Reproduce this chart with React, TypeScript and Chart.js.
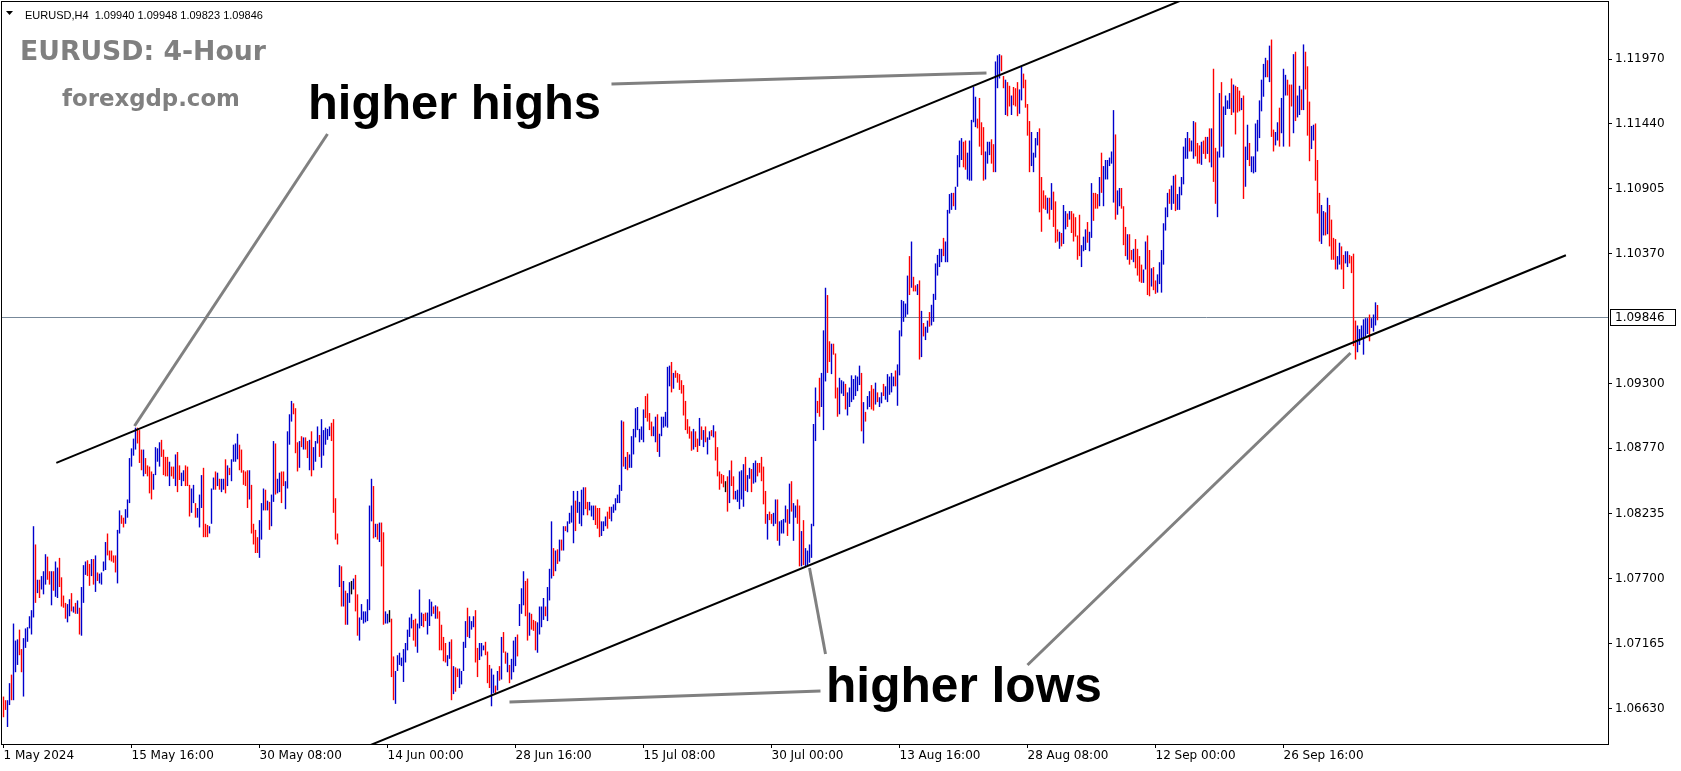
import React, { useEffect, useRef } from "react";
import { Chart, registerables } from "chart.js";

Chart.register(...registerables);

// ---- data -------------------------------------------------------------
// Each bar: [low, high, direction] ; low/high in pips above 1.06000,
// direction 1 = bullish (blue), -1 = bearish (red), 0 = doji (black)
const PRICE_BASE = 1.06;
const PIP = 0.0001;

const mayBars = [
  [56,73,-1],[62,70,-1],[48,70,1],[66,84,1],[70,91,-1],[70,133,1],[93,119,1],[99,120,1],[107,128,-1],[93,112,-1],
  [73,121,1],[113,129,1],[118,130,1],[129,139,1],[124,144,1],[138,213,1],[150,198,-1],[158,169,1],[154,169,-1],[161,172,1],
  [157,176,1],[165,190,1],[169,188,-1],[165,176,-1],[148,176,1],[160,176,-1],[155,184,1],[154,179,1],[163,187,-1],[147,171,-1],
  [146,156,-1],[137,150,-1],[134,149,1],[139,153,1],[143,158,-1],[142,147,1],[141,150,-1],[141,152,1],[124,146,-1],[123,163,1],
  [150,181,1],[173,184,1],[172,185,-1],[164,182,-1],[172,186,1],[165,186,-1],[159,189,1],[168,175,-1],[166,174,1],[165,175,1],
  [176,184,1],[177,200,1],[189,207,-1],[185,193,-1],[184,193,-1],[183,189,-1],[175,189,-1],[166,210,1],[207,226,1],[215,222,-1],
  [212,220,-1],[215,227,1],[220,235,1],[232,269,1],[262,277,1],[271,285,1],[276,294,1],[281,294,-1],[265,292,-1],[259,276,-1],
  [254,276,1],[256,269,-1],[254,263,-1],[240,262,-1],[235,258,-1],[243,256,1],[255,278,1],[266,277,1],[262,282,1],[270,284,-1],
  [255,276,-1],[254,270,-1],[254,270,-1],[246,266,1],[254,262,-1],[252,262,-1],[246,272,1],[241,274,-1],[251,263,-1],[246,257,1],
  [250,259,1],[246,263,-1],[246,262,-1],[221,247,-1],[224,244,1],[232,247,1],[220,232,-1],[220,228,1],[212,239,1],[228,255,1],
  [204,261,-1],[204,215,-1],[204,214,-1],[207,213,1],[215,244,1],[243,253,1],[243,258,-1],[246,257,1],[243,252,-1],[241,252,1],
  [243,252,1],[240,268,-1],[246,263,1],[255,261,-1],[250,268,1],[266,280,1],[266,281,1],[268,289,1],[259,280,-1],[257,276,-1],
  [247,259,-1],[246,258,-1],[228,259,-1],[235,259,1],[207,247,-1],[198,215,-1],[191,210,-1],[191,204,-1],[187,218,1],[202,232,1],
  [226,244,1],[226,243,-1],[226,234,1],[210,233,-1],[213,239,1],[233,283,1],[239,281,-1],[240,252,1]
];

const junBars = [
  [241,257,1],[232,258,-1],[246,258,-1],[227,250,1],[244,291,1],[280,305,1],[299,316,1],[305,314,-1],[273,310,-1],[258,282,-1],
  [261,283,1],[278,287,-1],[276,286,1],[276,286,-1],[269,283,-1],[259,284,1],[254,291,-1],[259,278,1],[266,283,1],[281,295,1],
  [270,288,-1],[261,301,1],[271,292,1],[280,294,1],[284,293,1],[287,295,1],[283,298,-1],[224,301,-1],[202,236,-1],[198,207,-1],
  [163,181,1],[147,180,-1],[147,168,1],[132,160,-1],[132,158,1],[150,167,1],[157,168,0],[161,170,1],[143,173,-1],[123,157,-1],
  [119,138,1],[136,149,1],[133,143,1],[134,143,1],[135,153,1],[144,230,1],[217,252,1],[203,246,-1],[204,215,1],[202,215,-1],
  [200,216,1],[180,216,-1],[132,208,-1],[133,143,1],[133,141,1],[134,144,0],[89,137,-1],[70,106,-1],[67,94,1],[94,107,1],
  [99,109,1],[98,105,1],[85,112,1],[101,117,1],[111,128,1],[122,138,1],[129,141,1],[119,136,-1],[114,137,-1],[109,133,1],
  [129,161,1],[131,142,1],[130,141,-1],[135,142,-1],[124,142,1],[131,153,1],[139,151,1],[141,147,-1],[137,148,1],[137,147,-1],
  [111,143,-1],[111,132,-1],[102,122,-1],[101,117,-1],[98,107,1],[104,118,1],[70,120,-1],[75,98,1],[77,97,-1],[89,96,-1],
  [80,96,1],[83,94,1],[94,118,1],[113,135,1],[122,146,-1],[121,139,1],[128,135,1],[130,139,1],[101,144,-1],[89,113,-1],
  [103,117,1],[106,117,1],[111,115,1],[107,118,-1],[84,110,-1],[80,99,-1],[65,96,1],[76,91,1],[76,82,-1],[78,94,1],
  [86,98,-1],[87,122,1],[109,126,-1],[100,110,-1],[93,109,1],[84,99,-1],[87,104,1],[93,119,1],[98,122,1],[106,124,-1]
];

const julBars = [
  [131,149,1],[141,162,1],[148,176,1],[139,168,-1],[119,170,-1],[123,142,1],[128,141,-1],[127,136,-1],[111,135,-1],[109,134,1],
  [124,147,1],[130,147,1],[136,154,1],[139,147,-1],[135,163,1],[152,178,1],[170,217,1],[172,195,-1],[176,193,1],[182,194,-1],
  [184,202,1],[193,202,-1],[193,213,1],[209,213,-1],[208,217,1],[215,224,1],[216,230,1],[199,242,1],[209,234,-1],[224,242,1],
  [215,233,1],[213,243,1],[222,245,1],[227,245,-1],[222,233,-1],[226,233,1],[221,230,1],[218,230,1],[214,230,-1],[211,228,-1],
  [204,228,-1],[205,217,1],[209,217,1],[213,221,1],[211,225,-1],[219,229,-1],[217,229,1],[224,231,1],[226,236,1],[232,239,1],
  [232,247,1],[242,300,1],[262,299,-1],[260,270,1],[259,274,-1],[261,272,1],[261,287,1],[272,293,1],[286,310,1],[292,311,1],
  [282,293,1],[284,295,1],[282,309,1],[302,320,-1],[299,322,-1],[292,306,-1],[287,299,-1],[287,295,1],[282,303,1],[274,305,-1],
  [270,289,1],[287,303,1],[294,303,1],[295,307,1],[294,344,1],[328,345,1],[323,348,-1],[326,339,1],[335,341,-1],[331,339,-1],
  [325,338,-1],[322,333,-1],[304,329,-1],[292,316,-1],[289,301,-1],[285,295,-1],[275,291,-1],[276,293,1],[278,291,-1],[274,285,-1],
  [279,302,1],[284,295,-1],[278,292,1],[282,295,-1],[272,286,1],[284,291,1],[287,292,-1],[286,296,1],[267,291,-1],[254,278,-1],
  [243,258,-1],[248,256,-1],[245,255,-1],[241,250,0],[225,254,-1],[232,259,1],[246,267,-1],[235,254,-1],[235,242,1],[233,243,1],
  [227,258,1],[235,259,1],[229,264,1],[242,270,-1],[241,255,1],[252,261,1],[241,260,-1],[248,265,1],[249,267,1],[254,265,-1],
  [257,265,-1],[250,270,-1],[231,262,-1],[215,242,-1],[202,223,1],[218,225,-1],[215,223,-1],[213,224,1],[215,235,1],[201,235,-1],
  [197,217,1],[207,218,1],[207,219,1],[216,230,1],[205,227,-1],[215,248,1],[225,250,-1],[201,232,1]
];

const augBars = [
  [220,230,1],[215,235,-1],[180,230,-1],[180,209,1],[181,218,-1],[180,195,1],[181,193,1],[183,198,1],[187,215,1],[213,297,1],
  [283,327,1],[306,316,-1],[303,335,-1],[311,339,1],[292,374,1],[332,409,1],[339,403,-1],[348,365,-1],[338,363,1],[354,363,-1],
  [318,355,-1],[303,327,-1],[305,335,1],[322,333,1],[320,332,1],[309,330,-1],[304,323,1],[311,327,1],[315,337,1],[317,334,1],
  [320,337,1],[324,336,1],[329,345,1],[291,339,-1],[281,315,1],[299,307,-1],[309,320,1],[311,324,1],[309,329,-1],[308,326,-1],
  [313,331,1],[315,323,-1],[311,319,1],[314,323,1],[320,330,-1],[317,328,1],[315,338,1],[321,336,1],[323,339,1],[328,336,1],
  [328,341,-1],[312,346,1],[337,374,1],[369,399,1],[381,398,1],[385,396,1],[387,419,1],[403,435,-1],[409,447,1],[406,418,-1],
  [406,411,-1],[403,412,1],[350,415,-1],[352,390,1],[369,380,-1],[366,377,1],[372,382,1],[377,389,-1],[378,395,1],[381,404,1],
  [399,429,1],[419,436,1],[426,441,1],[430,441,1],[435,450,-1],[430,447,1],[430,473,1],[470,486,1],[473,487,1],[476,487,-1],
  [473,492,1],[492,518,1],[508,530,1],[514,532,1],[508,529,-1],[506,530,-1],[498,520,1],[497,530,1],[497,547,1],[545,574,1],
  [541,566,1],[540,548,-1],[525,565,-1],[518,545,-1],[497,541,-1],[498,521,1],[511,529,1],[518,529,1],[511,531,-1],[504,527,-1],
  [504,595,1],[573,600,1],[581,601,1],[587,600,-1],[573,583,-1],[551,580,1],[550,578,-1],[558,575,-1],[551,567,1],[559,574,-1],
  [558,573,-1],[550,578,-1],[552,572,1],[563,591,1],[573,585,-1],[557,580,-1],[534,560,-1],[504,546,-1],[509,537,1],[504,520,1],
  [516,532,1],[526,537,1],[471,540,-1],[455,500,-1],[474,489,-1],[473,485,-1],[470,483,1],[465,483,-1],[473,495,1],[459,488,-1],
  [446,480,-1],[447,457,-1]
];

const sepBars = [
  [441,455,1],[443,454,-1],[445,477,1],[457,472,1],[459,470,-1],[465,472,1],[454,472,-1],[447,470,-1],[451,467,-1],[432,452,-1],
  [435,469,-1],[426,444,1],[439,451,1],[440,457,1],[446,463,-1],[439,455,1],[450,495,1],[464,487,-1],[474,487,-1],[474,486,-1],
  [476,500,1],[487,520,-1],[476,509,1],[498,514,1],[498,514,1],[509,516,1],[511,521,1],[479,555,1],[465,535,-1],[469,489,1],
  [476,491,1],[474,491,-1],[444,476,-1],[435,459,-1],[432,453,1],[428,453,-1],[432,440,-1],[430,441,1],[425,449,-1],[419,441,-1],
  [414,435,-1],[413,428,-1],[413,424,1],[424,447,1],[403,452,-1],[402,440,-1],[410,425,1],[407,426,-1],[404,415,-1],[405,420,1],
  [412,430,1],[405,440,1],[428,462,1],[456,475,1],[467,487,1],[478,490,-1],[473,493,1],[478,501,1],[472,502,-1],[473,486,1],
  [473,492,1],[485,500,1],[494,525,1],[515,532,1],[515,537,1],[521,532,-1],[521,530,1],[515,546,1],[517,545,-1],[511,528,-1],
  [511,526,-1],[510,529,1],[519,530,-1],[515,533,-1],[519,533,1],[512,540,-1],[508,540,1],[496,589,-1],[478,524,-1],[467,521,1],
  [516,569,1],[525,578,-1],[516,558,1],[551,567,1],[556,563,1],[556,569,1],[551,581,-1],[553,576,1],[535,575,-1],[553,574,-1],
  [554,571,-1],[555,565,1],[482,567,-1],[492,525,1],[514,543,1],[509,528,-1],[504,517,1],[503,517,1],[504,544,1],[521,547,1],
  [532,563,1],[554,580,1],[566,593,1],[582,598,1],[582,596,-1],[578,608,1],[533,613,-1],[521,539,-1],[526,537,1],[530,545,1],
  [525,557,-1],[536,565,1],[525,589,1],[567,584,1],[567,580,-1],[525,576,-1],[558,576,-1],[536,601,1],[546,603,-1],[549,567,1],
  [551,575,1],[555,572,-1],[555,609,1],[572,603,-1],[534,591,-1],[513,562,-1]
];

const octBars = [
  [523,542,1],[530,543,1],[497,544,-1],[470,514,-1],[447,487,-1],[445,477,1],[452,472,1],[452,471,-1],[453,483,1],[443,477,-1],
  [432,465,-1],[432,450,-1],[424,449,-1],[424,435,1],[428,446,1],[424,443,-1],[408,436,-1],[429,439,1],[426,439,1],[429,436,-1],
  [421,435,-1],[361,437,-1],[350,382,-1],[356,378,1],[362,375,1],[367,378,1],[354,383,1],[369,384,1],[371,384,1],[365,387,-1],
  [376,384,1],[373,387,1],[378,397,1],[382.3,394.8,-1]
];

const timeLabels = ["1 May 2024", "15 May 16:00", "30 May 08:00", "14 Jun 00:00", "28 Jun 16:00", "15 Jul 08:00",
  "30 Jul 00:00", "13 Aug 16:00", "28 Aug 08:00", "12 Sep 00:00", "26 Sep 16:00"];
const timeLabelBars = [0, 64, 128, 192, 256, 320, 384, 448, 512, 576, 640];
const priceTicks = [1.0663, 1.07165, 1.077, 1.08235, 1.0877, 1.093, 1.1037, 1.10905, 1.1144, 1.1197];

const symbolName = "EURUSD,H4";
const lastQuote = [1.0994, 1.09948, 1.09823, 1.09846]; // O H L C
const bidPrice = 1.09846;

// trend lines in [bar index, price]
const upperChannel = [[26.4, 1.0865], [600, 1.12527]];
const lowerChannel = [[150, 1.06106], [781.2, 1.10357]];
const pointerLines = [
  [[65.5, 1.08954], [162, 1.11354]],
  [[304, 1.11765], [491.5, 1.11855]],
  [[411, 1.0708], [403, 1.07787]],
  [[253, 1.06685], [408.5, 1.06775]],
  [[512, 1.06989], [673.5, 1.09554]],
];

// ---- styling ----------------------------------------------------------
const BLUE = "#0000CD";
const RED = "#FF0000";
const DOJI = "#000000";
const AXIS_FONT = { family: "DejaVu Sans", size: 12 };
const PLOT_RIGHT = 1608;
const PLOT_BOTTOM = 744;

const allBars = [...mayBars, ...junBars, ...julBars, ...augBars, ...sepBars, ...octBars];

function fitFont(ctx: CanvasRenderingContext2D, text: string, family: string, width: number) {
  ctx.font = `bold 100px ${family}`;
  const w = ctx.measureText(text).width;
  return (100 * width) / w;
}

const overlayPlugin = {
  id: "mtOverlay",
  beforeDatasetsDraw(chart: any) {
    const { ctx, chartArea: a, scales } = chart;
    const y = Math.round(scales.y.getPixelForValue(bidPrice)) + 0.5;
    ctx.save();
    ctx.strokeStyle = "#778899";
    ctx.lineWidth = 1;
    ctx.beginPath();
    ctx.moveTo(a.left, y);
    ctx.lineTo(a.right, y);
    ctx.stroke();
    ctx.restore();
    // centre the bars on whole pixel columns
    const px = scales.x.getPixelForValue(0);
    const shift = 0.5 - (px - Math.floor(px));
    ctx.save();
    ctx.translate(shift, 0);
  },
  afterDatasetsDraw(chart: any) {
    const { ctx, chartArea: a, scales } = chart;
    ctx.restore();
    const px = (p: number[]) => [scales.x.getPixelForValue(p[0]), scales.y.getPixelForValue(p[1])];
    ctx.save();
    ctx.beginPath();
    ctx.rect(a.left, a.top, a.right - a.left, a.bottom - a.top);
    ctx.clip();
    for (const ln of [upperChannel, lowerChannel]) {
      const [x1, y1] = px(ln[0]);
      const [x2, y2] = px(ln[1]);
      ctx.strokeStyle = "#000";
      ctx.lineWidth = 2;
      ctx.beginPath();
      ctx.moveTo(x1, y1);
      ctx.lineTo(x2, y2);
      ctx.stroke();
    }
    for (const ln of pointerLines) {
      const [x1, y1] = px(ln[0]);
      const [x2, y2] = px(ln[1]);
      ctx.strokeStyle = "#808080";
      ctx.lineWidth = 3;
      ctx.beginPath();
      ctx.moveTo(x1, y1);
      ctx.lineTo(x2, y2);
      ctx.stroke();
    }
    const texts = [
      { t: "higher highs", x: 308, y: 119, w: 293, c: "#000", f: "Liberation Sans" },
      { t: "higher lows", x: 826, y: 702, w: 276, c: "#000", f: "Liberation Sans" },
      { t: "EURUSD: 4-Hour", x: 20, y: 60, w: 246, c: "#808080", f: "DejaVu Sans" },
      { t: "forexgdp.com", x: 62, y: 106, w: 178, c: "#808080", f: "DejaVu Sans" },
    ];
    ctx.textBaseline = "alphabetic";
    ctx.textAlign = "left";
    for (const tx of texts) {
      const size = fitFont(ctx, tx.t, tx.f, tx.w);
      ctx.font = `bold ${size}px ${tx.f}`;
      ctx.fillStyle = tx.c;
      ctx.fillText(tx.t, tx.x, tx.y);
    }
    ctx.restore();
  },
  afterDraw(chart: any) {
    const { ctx, chartArea: a, scales } = chart;
    ctx.save();
    ctx.strokeStyle = "#000";
    ctx.lineWidth = 1;
    ctx.strokeRect(a.left - 0.5, a.top - 0.5, a.right - a.left + 1, a.bottom - a.top + 1);
    // header
    ctx.fillStyle = "#000";
    ctx.beginPath();
    ctx.moveTo(6, 11);
    ctx.lineTo(13, 11);
    ctx.lineTo(9.5, 15);
    ctx.closePath();
    ctx.fill();
    ctx.font = "11px Liberation Sans";
    ctx.textBaseline = "alphabetic";
    ctx.fillText(symbolName + "  " + lastQuote.map((v) => v.toFixed(5)).join(" "), 25, 19);
    // bid label on the price axis
    const y = Math.round(scales.y.getPixelForValue(bidPrice));
    ctx.fillStyle = "#fff";
    ctx.fillRect(a.right + 2, y - 8, 66, 17);
    ctx.strokeStyle = "#000";
    ctx.strokeRect(a.right + 2.5, y - 7.5, 65, 16);
    ctx.fillStyle = "#000";
    ctx.font = `${AXIS_FONT.size}px ${AXIS_FONT.family}`;
    ctx.textBaseline = "middle";
    ctx.fillText(bidPrice.toFixed(5), a.right + 7, y + 0.5);
    ctx.restore();
  },
};

export default function App() {
  const ref = useRef<HTMLCanvasElement>(null);
  useEffect(() => {
    document.body.style.margin = "0";
    const canvas = ref.current as HTMLCanvasElement;
    const chart = new Chart(canvas, {
      type: "bar",
      data: {
        datasets: [
          {
            data: allBars.map((b, i) => ({ x: i, y: [PRICE_BASE + b[0] * PIP, PRICE_BASE + b[1] * PIP] })),
            backgroundColor: allBars.map((b) => (b[2] > 0 ? BLUE : b[2] < 0 ? RED : DOJI)),
            barThickness: 1.4,
            borderWidth: 0,
            inflateAmount: 0,
            grouped: false,
          } as any,
        ],
      },
      options: {
        responsive: false,
        animation: false,
        devicePixelRatio: 1,
        layout: { padding: { top: 2, left: 2, right: 0, bottom: 0 } },
        plugins: { legend: { display: false }, tooltip: { enabled: false } },
        scales: {
          x: {
            type: "linear",
            min: -0.75,
            max: -0.75 + (PLOT_RIGHT - 2) / 2,
            offset: false,
            afterBuildTicks: (s: any) => {
              s.ticks = timeLabelBars.map((v) => ({ value: v }));
            },
            afterFit: (s: any) => {
              s.height = 771 - PLOT_BOTTOM;
              s.paddingLeft = 0;
              s.paddingRight = 0;
            },
            ticks: {
              callback: (v: any) => timeLabels[timeLabelBars.indexOf(Number(v))] ?? "",
              align: "start",
              maxRotation: 0,
              autoSkip: false,
              font: AXIS_FONT,
              color: "#000",
              padding: 1,
            },
            grid: { drawOnChartArea: false, drawTicks: true, tickLength: 4, color: "#000", offset: false },
            border: { display: false },
          },
          y: {
            position: "right",
            min: 1.0634,
            max: 1.124386,
            afterBuildTicks: (s: any) => {
              s.ticks = priceTicks.map((v) => ({ value: v }));
            },
            afterFit: (s: any) => {
              s.width = 1681 - PLOT_RIGHT;
              s.paddingTop = 0;
              s.paddingBottom = 0;
            },
            ticks: {
              callback: (v: any) => Number(v).toFixed(5),
              font: AXIS_FONT,
              color: "#000",
              padding: 3,
              autoSkip: false,
            },
            grid: { drawOnChartArea: false, drawTicks: true, tickLength: 4, color: "#000" },
            border: { display: false },
          },
        },
      } as any,
      plugins: [overlayPlugin],
    });
    return () => chart.destroy();
  }, []);
  return <canvas ref={ref} width={1681} height={771} style={{ display: "block" }} />;
}
